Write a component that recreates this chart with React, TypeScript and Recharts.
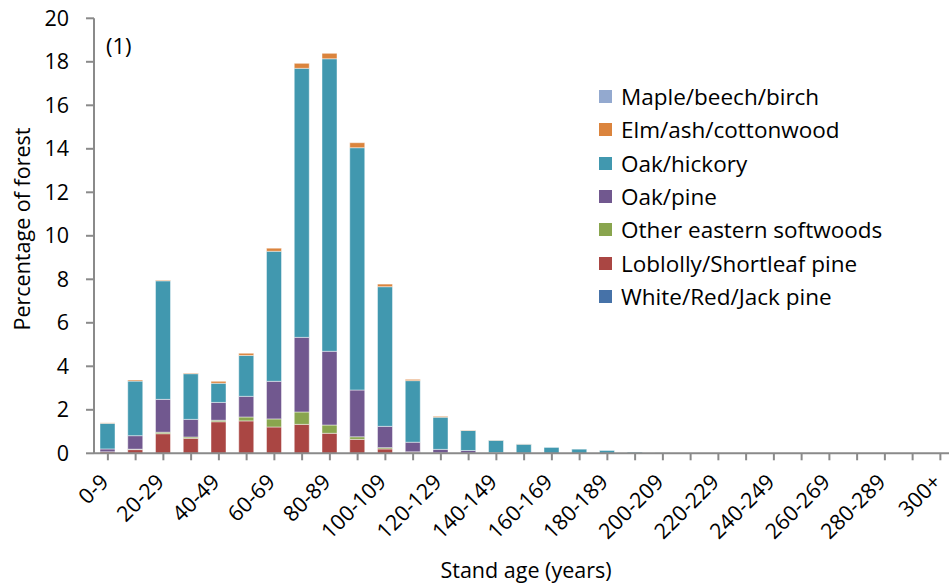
import React from 'react';
import { BarChart, Bar, XAxis, YAxis, Legend, Label } from 'recharts';

const categories = [
  '0-9', '10-19', '20-29', '30-39', '40-49', '50-59', '60-69', '70-79', '80-89', '90-99',
  '100-109', '110-119', '120-129', '130-139', '140-149', '150-159', '160-169', '170-179', '180-189', '190-199',
  '200-209', '210-219', '220-229', '230-239', '240-249', '250-259', '260-269', '270-279', '280-289', '290-299',
  '300+',
];

const whiteRedJack = [0, 0, 0, 0, 0, 0, 0, 0, 0, 0, 0, 0, 0, 0, 0, 0, 0, 0, 0, 0, 0, 0, 0, 0, 0, 0, 0, 0, 0, 0, 0];
const loblolly = [0.07, 0.17, 0.9, 0.69, 1.45, 1.49, 1.21, 1.33, 0.92, 0.64, 0.2, 0.05, 0.02, 0.01, 0, 0, 0, 0, 0, 0, 0, 0, 0, 0, 0, 0, 0, 0, 0, 0, 0];
const otherSoft = [0, 0.02, 0.07, 0.06, 0.07, 0.18, 0.37, 0.57, 0.38, 0.12, 0.06, 0.02, 0, 0, 0, 0, 0, 0, 0, 0, 0, 0, 0, 0, 0, 0, 0, 0, 0, 0, 0];
const oakPine = [0.13, 0.62, 1.51, 0.81, 0.82, 0.95, 1.73, 3.43, 3.39, 2.15, 0.98, 0.44, 0.16, 0.12, 0.03, 0.01, 0, 0, 0, 0, 0, 0, 0, 0, 0, 0, 0, 0, 0, 0, 0];
const oakHickory = [1.18, 2.51, 5.45, 2.1, 0.88, 1.88, 5.98, 12.37, 13.45, 11.14, 6.42, 2.83, 1.48, 0.92, 0.57, 0.41, 0.27, 0.19, 0.13, 0.05, 0.02, 0, 0, 0, 0, 0, 0, 0, 0, 0, 0];
const elmAsh = [0.02, 0.05, 0.03, 0.03, 0.09, 0.1, 0.14, 0.23, 0.25, 0.23, 0.12, 0.06, 0.04, 0.02, 0.01, 0.01, 0, 0, 0, 0, 0, 0, 0, 0, 0, 0, 0, 0, 0, 0, 0];
const mapleBeech = [0, 0, 0, 0, 0, 0, 0, 0, 0, 0, 0, 0, 0, 0, 0, 0, 0, 0, 0, 0, 0, 0, 0, 0, 0, 0, 0, 0, 0, 0, 0];

const yTicks = [0, 2, 4, 6, 8, 10, 12, 14, 16, 18, 20];

const series = [
  { key: 'whiteRedJack', name: 'White/Red/Jack pine', color: '#4672A8', values: whiteRedJack },
  { key: 'loblolly', name: 'Loblolly/Shortleaf pine', color: '#AA4643', values: loblolly },
  { key: 'otherSoft', name: 'Other eastern softwoods', color: '#89A54E', values: otherSoft },
  { key: 'oakPine', name: 'Oak/pine', color: '#71588F', values: oakPine },
  { key: 'oakHickory', name: 'Oak/hickory', color: '#4198AF', values: oakHickory },
  { key: 'elmAsh', name: 'Elm/ash/cottonwood', color: '#DB843D', values: elmAsh },
  { key: 'mapleBeech', name: 'Maple/beech/birch', color: '#93A9CF', values: mapleBeech },
];

const data = categories.map((cat, i) => {
  const row: Record<string, number | string> = { cat };
  series.forEach((s) => {
    row[s.key] = s.values[i];
  });
  return row;
});

const FONT = '"Open Sans", sans-serif';
const AXIS = '#8a8a8a';
const FS = 21.5;

const XTick = (props: any) => {
  const { x, y, payload, index } = props;
  if (index % 2 !== 0) return null;
  const ax = x + 2;
  const ay = y + 23;
  return (
    <text
      x={ax}
      y={ay}
      transform={`rotate(-45 ${ax} ${ay})`}
      textAnchor="end"
      fontSize={FS}
      fontFamily={FONT}
      fill="#000"
    >
      {payload.value}
    </text>
  );
};

const LegendContent = () => {
  const items = [...series].reverse();
  return (
    <div style={{ fontFamily: FONT, fontSize: 22.5, color: '#000' }}>
      {items.map((s) => (
        <div key={s.key} style={{ display: 'flex', alignItems: 'center', height: 33.3 }}>
          <span style={{ display: 'inline-block', width: 13, height: 13, background: s.color, marginRight: 9 }} />
          <span style={{ lineHeight: '33px', whiteSpace: 'nowrap' }}>{s.name}</span>
        </div>
      ))}
    </div>
  );
};

export default function App() {
  return (
    <div style={{ position: 'absolute', left: 0, top: 0, width: 949, height: 587, overflow: 'hidden', background: '#fff', fontFamily: FONT }}>
      <BarChart
        width={960}
        height={587}
        data={data}
        margin={{ top: 18.3, right: 5.75, bottom: 0, left: 0 }}
        barSize={15}
      >
        <XAxis
          dataKey="cat"
          interval={0}
          tick={<XTick />}
          tickSize={7}
          tickMargin={0}
          height={133.7}
          axisLine={{ stroke: AXIS, strokeWidth: 2 }}
          tickLine={{ stroke: AXIS, strokeWidth: 2 }}
        >
          <Label
            content={() => (
              <text x={526} y={578} textAnchor="middle" fontSize={FS} fontFamily={FONT} fill="#000">
                Stand age (years)
              </text>
            )}
          />
        </XAxis>
        <YAxis
          domain={[0, 20]}
          ticks={yTicks}
          interval={0}
          width={94}
          tickSize={8}
          tickMargin={17}
          tick={{ fill: '#000', fontSize: FS, fontFamily: FONT }}
          axisLine={{ stroke: AXIS, strokeWidth: 2 }}
          tickLine={{ stroke: AXIS, strokeWidth: 2 }}
        >
          <Label
            content={() => (
              <text
                x={30}
                y={229}
                transform="rotate(-90 30 229)"
                textAnchor="middle"
                fontSize={FS}
                fontFamily={FONT}
                fill="#000"
              >
                Percentage of forest
              </text>
            )}
          />
        </YAxis>
        <Legend
          layout="vertical"
          align="center"
          verticalAlign="middle"
          content={<LegendContent />}
          wrapperStyle={{ left: 599, top: 80, width: 340, height: 240 }}
        />
        {series.map((s) => (
          <Bar
            key={s.key}
            dataKey={s.key}
            name={s.name}
            stackId="a"
            fill={s.color}
            stroke="rgba(255,255,255,0.45)"
            strokeWidth={1}
            isAnimationActive={false}
          />
        ))}
      </BarChart>
      <div style={{ position: 'absolute', left: 106, top: 30, fontSize: 22, lineHeight: '30px', fontFamily: FONT, color: '#000' }}>(1)</div>
    </div>
  );
}
